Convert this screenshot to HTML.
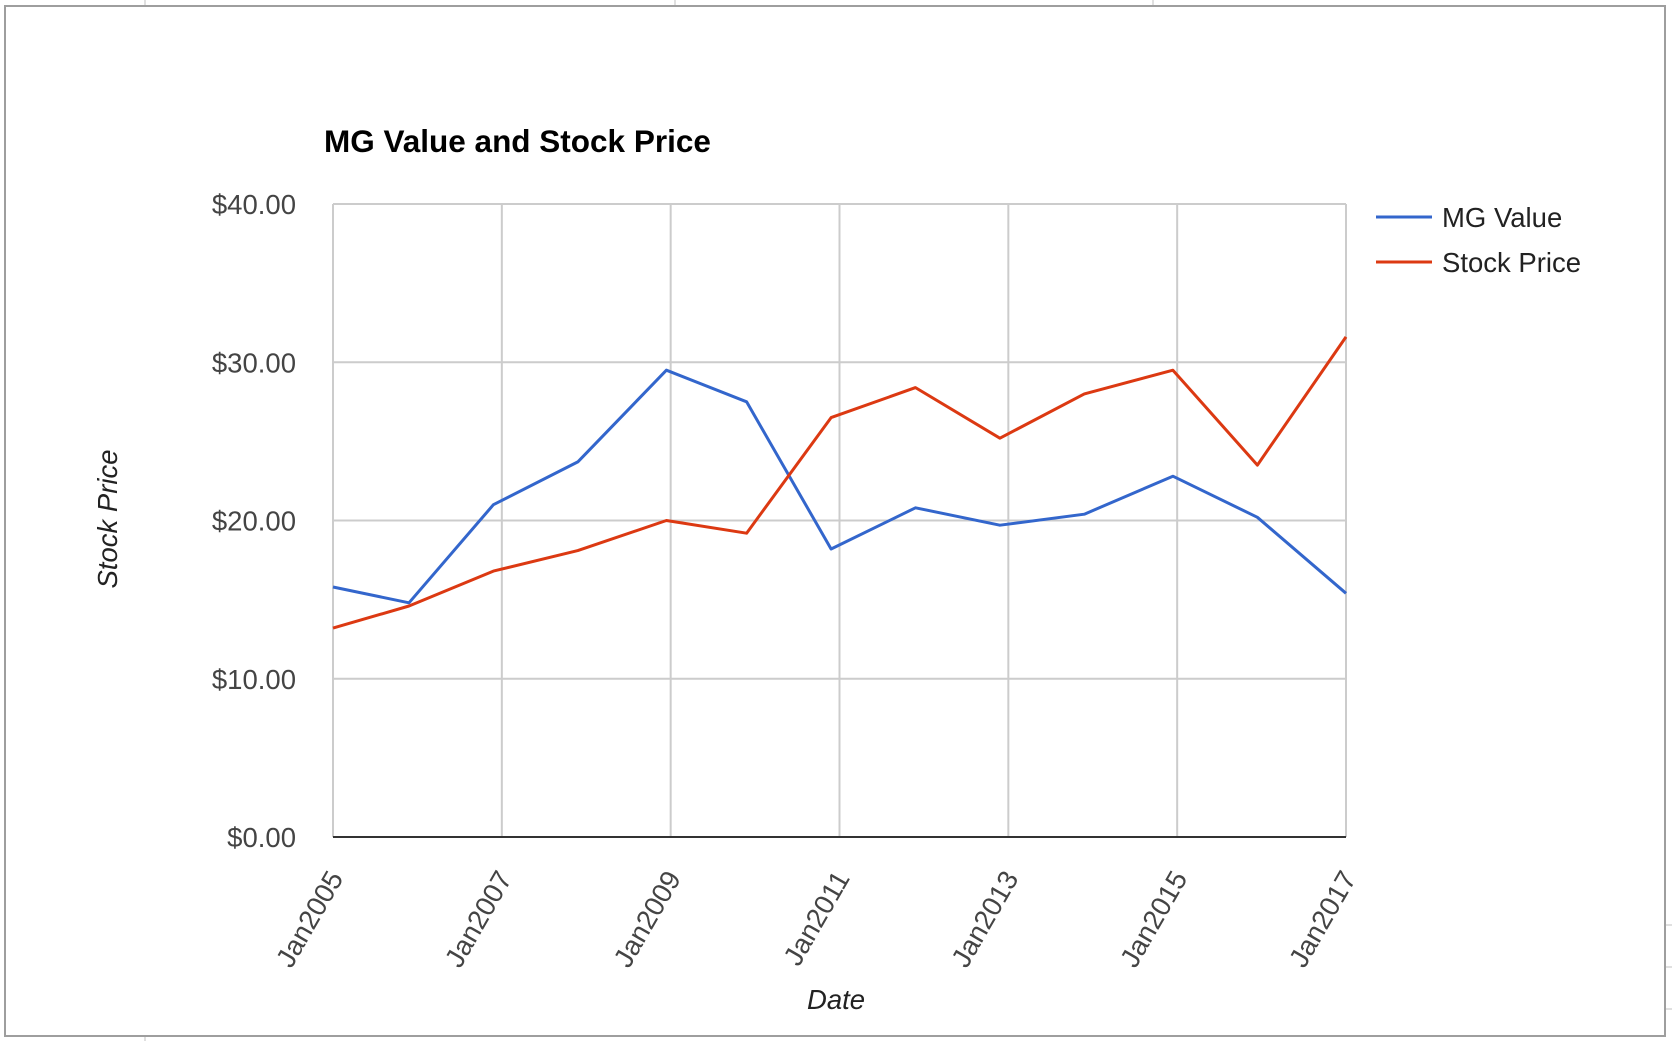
<!DOCTYPE html>
<html><head><meta charset="utf-8"><style>
html,body{margin:0;padding:0;background:#fff;}
svg{display:block;font-family:"Liberation Sans",Arial,sans-serif;}
</style></head><body>
<svg id="chart" width="1672" height="1041" viewBox="0 0 1672 1041">
  <g stroke="#e0e0e0" stroke-width="2">
    <line x1="145" y1="0" x2="145" y2="5"/><line x1="675" y1="0" x2="675" y2="5"/><line x1="1153" y1="0" x2="1153" y2="5"/>
    <line x1="145" y1="1037" x2="145" y2="1041"/><line x1="1666" y1="925" x2="1672" y2="925"/><line x1="1666" y1="967" x2="1672" y2="967"/><line x1="1666" y1="1009" x2="1672" y2="1009"/>
  </g>
  <rect x="5" y="6" width="1660" height="1030" fill="#fff" stroke="#9e9e9e" stroke-width="2"/>
  <text x="324" y="152" font-size="31.5" font-weight="bold" fill="#000">MG Value and Stock Price</text>
  <g id="grid"></g>
  <g id="yticks"></g>
  <g id="xticks"></g>
  <g id="series"></g>
  <text x="836" y="1009" font-size="27.5" font-style="italic" fill="#222" text-anchor="middle">Date</text>
  <text transform="translate(117,519) rotate(-90)" font-size="27.5" font-style="italic" fill="#222" text-anchor="middle">Stock Price</text>
  <g>
    <g>
      <line x1="1376" y1="217" x2="1432" y2="217" stroke="#3366cc" stroke-width="3"/>
      <text x="1442" y="227" font-size="27.5" fill="#222">MG Value</text>
    </g>
    <g>
      <line x1="1376" y1="262" x2="1432" y2="262" stroke="#dc3912" stroke-width="3"/>
      <text x="1442" y="272" font-size="27.5" fill="#222">Stock Price</text>
    </g>
  </g>
</svg>
<script>
const dates = [2005.0, 2005.9, 2006.9, 2007.9, 2008.95, 2009.9, 2010.9, 2011.9, 2012.9, 2013.9, 2014.95, 2015.95, 2017.0];
const mgValue = [15.8, 14.8, 21.0, 23.7, 29.5, 27.5, 18.2, 20.8, 19.7, 20.4, 22.8, 20.2, 15.4];
const stockPrice = [13.2, 14.6, 16.8, 18.1, 20.0, 19.2, 26.5, 28.4, 25.2, 28.0, 29.5, 23.5, 31.6];
const yTicks = [0, 10, 20, 30, 40];
const yTickLabels = ["$0.00", "$10.00", "$20.00", "$30.00", "$40.00"];
const xTicks = [2005, 2007, 2009, 2011, 2013, 2015, 2017];
const xTickLabels = ["Jan2005", "Jan2007", "Jan2009", "Jan2011", "Jan2013", "Jan2015", "Jan2017"];

const NS = "http://www.w3.org/2000/svg";
const L = 333, R = 1346, T = 204, B = 837;
const xs = d => L + (d - 2005) / 12 * (R - L);
const ys = v => B - v / 40 * (B - T);
function mk(tag, attrs, parent) {
  const e = document.createElementNS(NS, tag);
  for (const k in attrs) e.setAttribute(k, attrs[k]);
  parent.appendChild(e);
  return e;
}
const grid = document.getElementById('grid');
const yg = document.getElementById('yticks');
const xg = document.getElementById('xticks');
const sg = document.getElementById('series');

yTicks.forEach((v, i) => {
  if (v !== 0) {
    const ln = mk('line', {x1: L, x2: R, y1: ys(v), y2: ys(v), stroke: '#cccccc', 'stroke-width': 2}, grid);
    
    
  }
  const t = mk('text', {x: 296, y: ys(v) + 10, 'font-size': 27.5, fill: '#444', 'text-anchor': 'end'}, yg);
  t.textContent = yTickLabels[i];
  
  
});
xTicks.forEach((d, i) => {
  const ln = mk('line', {x1: xs(d), x2: xs(d), y1: T, y2: B, stroke: '#cccccc', 'stroke-width': 2}, grid);
  
  
  const x = xs(d) + 11, y = 878;
  const t = mk('text', {x: x, y: y, 'font-size': 27.5, fill: '#444', 'text-anchor': 'end', transform: `rotate(-60 ${x} ${y})`}, xg);
  t.textContent = xTickLabels[i];
  
  
});
const base = mk('line', {x1: L, x2: R, y1: B, y2: B, stroke: '#333', 'stroke-width': 2}, grid);



function drawLine(vals, color, name) {
  const pts = vals.map((v, i) => xs(dates[i]).toFixed(1) + ',' + ys(v).toFixed(1)).join(' ');
  const p = mk('polyline', {points: pts, fill: 'none', stroke: color, 'stroke-width': 3, 'stroke-linejoin': 'round'}, sg);
  
  
}
drawLine(mgValue, '#3366cc', 'mg-value-line');
drawLine(stockPrice, '#dc3912', 'stock-price-line');
</script>
</body></html>
